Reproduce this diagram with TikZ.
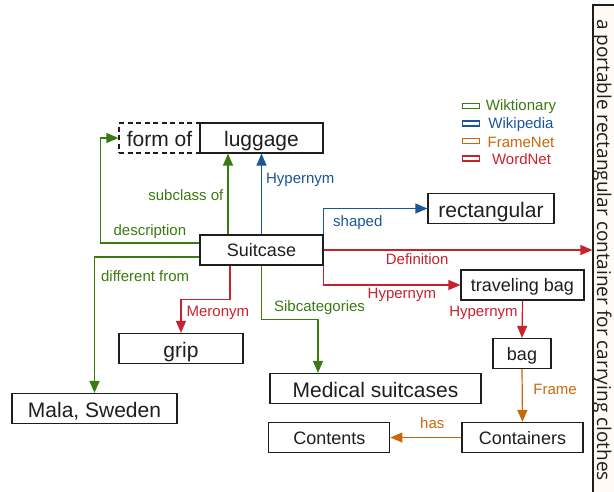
\documentclass[tikz,border=0pt]{standalone}
\usepackage{fontspec}
\setmainfont{Liberation Sans}
\newfontfamily\glossfont{Open Sans}
\usepackage{tikz}
\usepackage{xcolor}
\usetikzlibrary{arrows.meta,positioning}
\definecolor{wikt}{RGB}{58,122,16}
\definecolor{wiki}{RGB}{26,86,152}
\definecolor{fnet}{RGB}{204,102,12}
\definecolor{wnet}{RGB}{200,34,46}
\definecolor{ink}{RGB}{30,30,30}
\definecolor{cream}{RGB}{255,250,243}
\tikzstyle{word} = [
    rectangle,
    draw=ink,
    line width=1.2pt,
    text=ink,
    inner sep=0pt,
    minimum height=30pt,
    font=\fontsize{21}{24}\selectfont,
    text height=20pt,
    text depth=3pt
]
\tikzstyle{smallword} = [
    word,
    font=\fontsize{18}{21}\selectfont,
    text height=16pt,
    text depth=3pt
]
\tikzstyle{link} = [
    line width=1.2pt,
    -{Triangle[length=12pt,width=10pt]}
]
\tikzstyle{rellabel} = [
    inner sep=0pt,
    font=\fontsize{15}{18}\selectfont
]

\begin{document}
\begin{tikzpicture}[x=1pt, y=-1pt,
                legicon/.style={
                    rectangle,
                    line width=1.2pt,
                    fill=white,
                    minimum width=17pt,
                    minimum height=5pt,
                    inner sep=0pt
                },
                legtext/.style={
                    inner sep=0pt,
                    font=\fontsize{15}{18}\selectfont
                }
            ]
                \useasboundingbox (0,0) rectangle (614,491);
                % gloss on the right
                \node[draw=ink, fill=cream, line width=1.2pt, rotate=-90,
                      minimum width=490pt, minimum height=27pt, inner sep=0pt,
                      text height=23pt, text depth=4pt, text=ink,
                      font=\glossfont\fontsize{19}{22}\selectfont]
                      (gloss) at (606.5,250) {a portable rectangular container for carrying clothes};
                % words
                \node[word, minimum width=123pt] (luggage) at (261.5,138) {luggage};
                \node[word, minimum width=81pt, dash pattern=on 5pt off 3.5pt, left=-1.2pt of luggage] (formof) {form of};
                \node[smallword, minimum width=123pt] (suitcase) at (261.5,250) {Suitcase};
                \node[word, minimum width=126pt] (rectangular) at (491,208.5) {rectangular};
                \node[smallword, minimum width=123pt] (travbag) at (522.5,285) {traveling bag};
                \node[smallword, minimum width=58pt] (bag) at (522,353.5) {bag};
                \node[smallword, minimum width=121pt] (containers) at (522.5,437.5) {Containers};
                \node[smallword, minimum width=121pt, left=71pt of containers] (contents) {Contents};
                \node[word, minimum width=211pt] (medical) at (375.5,388.5) {Medical suitcases};
                \node[word, minimum width=124pt] (grip) at (181,348.5) {grip};
                \node[word, minimum width=165pt] (mala) at (94.5,408.5) {Mala, Sweden};
                % legend
                \node[legicon, draw=wikt] (icwikt) at (471,106) {};
                \node[legicon, draw=wiki] (icwiki) at (471,123.5) {};
                \node[legicon, draw=fnet] (icfnet) at (471,141) {};
                \node[legicon, draw=wnet] (icwnet) at (471,158.5) {};
                \node[legtext, text=wikt] (lgwikt) at (521,107) {Wiktionary};
                \node[legtext, text=wiki] (lgwiki) at (521,124.5) {Wikipedia};
                \node[legtext, text=fnet] (lgfnet) at (521,142) {FrameNet};
                \node[legtext, text=wnet] (lgwnet) at (521.5,159.5) {WordNet};
                % Wiktionary
                \draw[link, wikt] ([yshift=7pt]suitcase.west) -| node[rellabel, pos=0.25, anchor=base, yshift=8pt] (lbdesc) {description} ([xshift=-18pt]formof.west) -- (formof.west);
                \draw[link, wikt] ([xshift=-33.5pt]suitcase.north) -- node[rellabel, anchor=base east, xshift=-4pt, yshift=-6pt] (lbsub) {subclass of} ([xshift=-33.5pt]luggage.south);
                \draw[link, wikt] ([yshift=-7pt]suitcase.west) -| node[rellabel, pos=0.5, anchor=base west, xshift=6pt, yshift=-24pt] (lbdiff) {different from} (mala.north);
                \draw[link, wikt] (suitcase.south) -- ++(0,-54pt) -| node[rellabel, pos=0, anchor=base west, xshift=12pt, yshift=8pt] (lbsib) {Sibcategories} ([xshift=-57.5pt]medical.north);
                % Wikipedia
                \draw[link, wiki] (suitcase.north) -- node[rellabel, anchor=base west, xshift=4pt, yshift=11pt] (lbhyp) {Hypernym} (luggage.south);
                \draw[link, wiki] (suitcase.north east) |- node[rellabel, pos=0.5, anchor=base west, xshift=9pt, yshift=-18pt] (lbshape) {shaped} (rectangular.west);
                % WordNet
                \draw[link, wnet] (suitcase.east) -- node[rellabel, pos=0.348, anchor=base, yshift=-14pt] (lbdef) {Definition} (gloss.south);
                \draw[link, wnet] (suitcase.south east) |- node[rellabel, pos=0.786, anchor=base, yshift=-13pt] (lbhyptb) {Hypernym} (travbag.west);
                \draw[link, wnet] (travbag.south) -- node[rellabel, anchor=base east, xshift=-4pt, yshift=3pt] (lbhypbag) {Hypernym} (bag.north);
                \draw[link, wnet] ([xshift=-31.5pt]suitcase.south) -- ++(0,-34pt) -| node[rellabel, pos=0.5, anchor=base west, xshift=5pt, yshift=-17pt] (lbmero) {Meronym} (grip.north);
                % FrameNet
                \draw[link, fnet] (bag.south) -- node[rellabel, anchor=base west, xshift=10.5pt, yshift=1pt] (lbframe) {Frame} (containers.north);
                \draw[link, fnet] (containers.west) -- node[rellabel, pos=0.41, anchor=base, yshift=9pt] (lbhas) {has} (contents.east);
            \end{tikzpicture}
\end{document}
